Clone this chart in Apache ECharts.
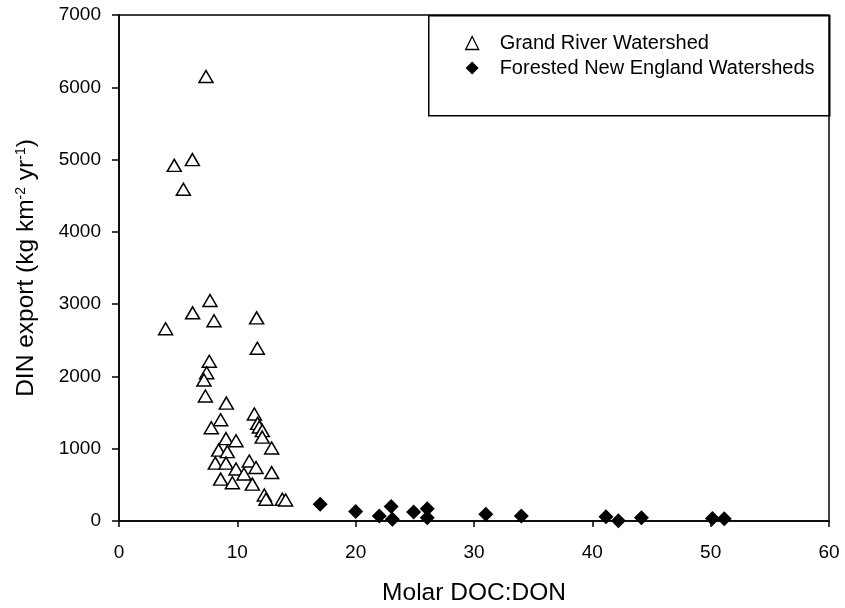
<!DOCTYPE html>
<html>
<head>
<meta charset="utf-8">
<script src="https://cdn.jsdelivr.net/npm/echarts@6/dist/echarts.min.js"></script>
<style>html,body{margin:0;padding:0;background:#fff}#c{width:845px;height:608px}</style>
</head>
<body>
<div id="c"></div>
<script>
const grandX = [7.35, 4.67, 6.2, 5.44, 7.69, 6.22, 8.03, 11.63, 3.94, 11.69, 7.63, 7.41, 7.18, 7.3, 9.07, 11.44, 8.59, 11.72, 7.8, 11.86, 12.11, 9.04, 9.89, 12.1, 12.9, 8.42, 9.15, 11.01, 8.14, 9.04, 11.58, 9.89, 10.56, 12.9, 8.59, 9.58, 11.27, 12.28, 12.42, 13.8, 14.08];
const grandY = [6150, 4920, 5000, 4590, 3050, 2880, 2770, 2810, 2660, 2390, 2210, 2050, 1950, 1730, 1630, 1480, 1400, 1350, 1290, 1300, 1250, 1140, 1110, 1160, 1010, 980, 960, 830, 800, 800, 740, 720, 650, 670, 580, 530, 510, 360, 300, 300, 290];
const forestX = [17.0, 20.0, 22.0, 23.0, 23.1, 24.9, 26.05, 26.05, 31.0, 34.0, 41.15, 42.2, 44.15, 50.15, 51.15];
const forestY = [230, 130, 70, 200, 25, 125, 170, 45, 95, 70, 60, 5, 45, 35, 30];
const seriesNames = ['Grand River Watershed', 'Forested New England Watersheds'];
const xTitle = 'Molar DOC:DON';

const FONT = '"Liberation Sans", Arial, sans-serif';
const chart = echarts.init(document.getElementById('c'), null, {renderer: 'canvas'});
const zip = (xs, ys) => xs.map((x, i) => [x, ys[i]]);

chart.setOption({
  animation: false,
  backgroundColor: '#fff',
  textStyle: {fontFamily: FONT, color: '#000'},
  grid: {left: 119, right: 16, top: 15, bottom: 87, containLabel: false, outerBoundsMode: 'none',
    show: true, borderColor: '#000', borderWidth: 1.5, backgroundColor: 'transparent'},
  xAxis: {
    type: 'value', min: 0, max: 60, interval: 10,
    name: xTitle, nameLocation: 'middle', nameGap: 60, nameMoveOverlap: false,
    nameTextStyle: {fontSize: 24.5, color: '#000', fontFamily: FONT},
    axisLine: {show: true, lineStyle: {color: '#000', width: 1.5}},
    axisTick: {show: true, inside: false, length: 6, lineStyle: {color: '#000', width: 1.5}},
    axisLabel: {fontSize: 19, color: '#000', margin: 22, fontFamily: FONT},
    splitLine: {show: false}
  },
  yAxis: {
    type: 'value', min: 0, max: 7000, interval: 1000,
    name: 'DIN export (kg km{sup|-2} yr{sup|-1})', nameLocation: 'middle', nameGap: 80, nameRotate: 90, nameMoveOverlap: false,
    nameTextStyle: {fontSize: 24.5, color: '#000', fontFamily: FONT,
      rich: {sup: {fontSize: 14, color: '#000', fontFamily: FONT, verticalAlign: 'top', padding: [0, 0, 11, 0]}}},
    axisLine: {show: true, lineStyle: {color: '#000', width: 1.5}},
    axisTick: {show: true, inside: false, length: 7, lineStyle: {color: '#000', width: 1.5}},
    axisLabel: {fontSize: 19, color: '#000', margin: 18, fontFamily: FONT, formatter: v => String(v)},
    splitLine: {show: false}
  },
  legend: {
    show: true, orient: 'vertical', left: 460, top: 28, itemGap: 5,
    itemWidth: 13, itemHeight: 13,
    textStyle: {fontSize: 20, color: '#000', fontFamily: FONT, padding: [0, 0, 0, 16]},
    data: [
      {name: seriesNames[0], icon: 'triangle', itemStyle: {color: '#fff', borderColor: '#000', borderWidth: 1.3}},
      {name: seriesNames[1], icon: 'diamond', itemStyle: {color: '#000'}}
    ]
  },
  graphic: [{
    type: 'rect', left: 428, top: 15, z: -1,
    shape: {width: 401, height: 100},
    style: {fill: '#fff', stroke: '#000', lineWidth: 1.5}
  }],
  series: [
    {
      name: seriesNames[0], type: 'scatter', symbol: 'triangle', symbolSize: [14, 12],
      itemStyle: {color: '#fff', borderColor: '#000', borderWidth: 1.5, opacity: 1},
      data: zip(grandX, grandY), z: 3
    },
    {
      name: seriesNames[1], type: 'scatter', symbol: 'diamond', symbolSize: [15, 15],
      itemStyle: {color: '#000', opacity: 1},
      data: zip(forestX, forestY), z: 4
    }
  ]
});
</script>
</body>
</html>
